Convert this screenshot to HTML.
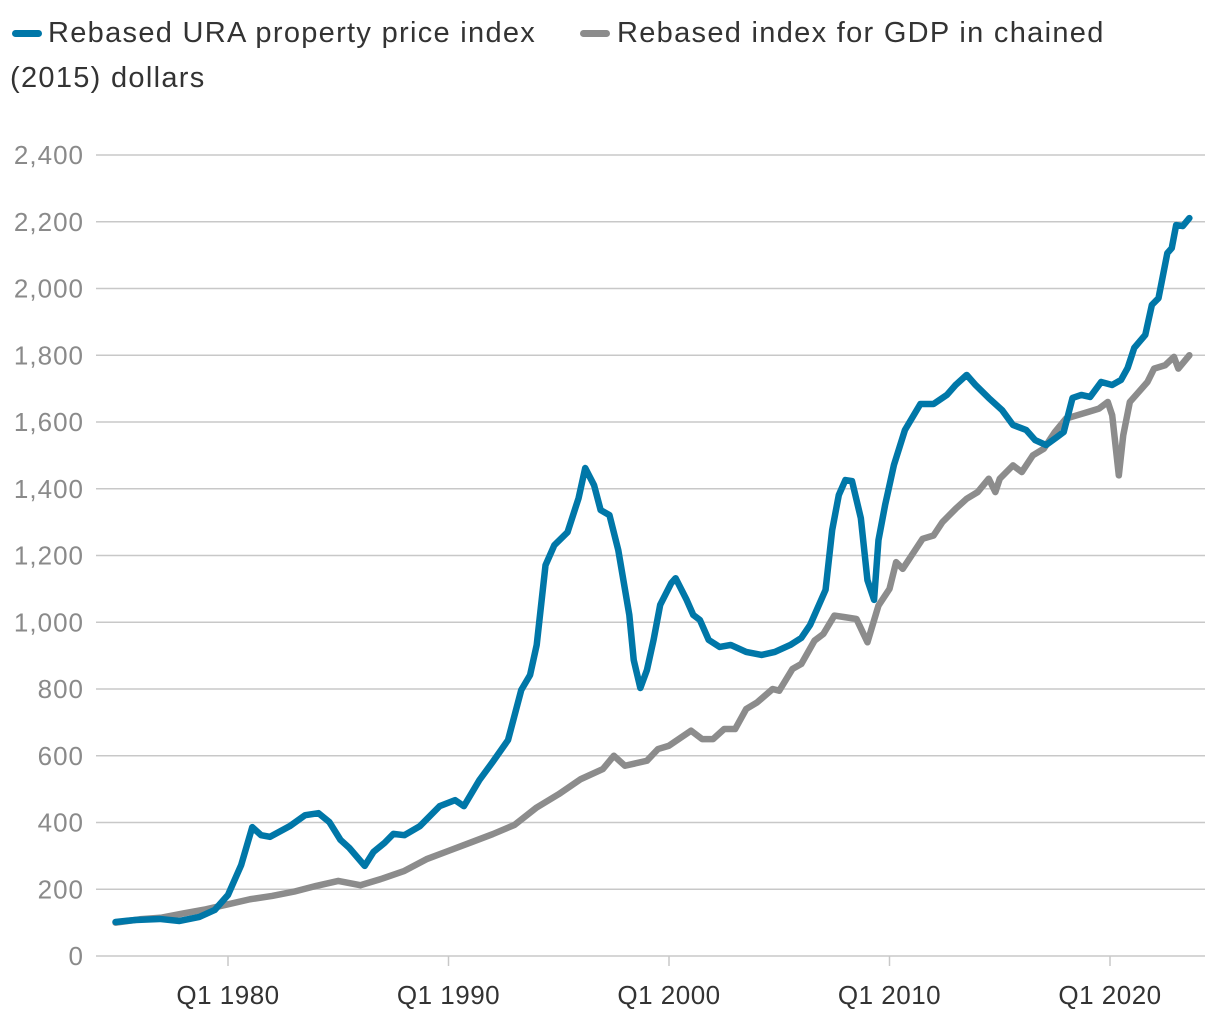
<!DOCTYPE html>
<html><head><meta charset="utf-8"><style>
body{margin:0;background:#fff;width:1220px;height:1020px;overflow:hidden;font-family:"Liberation Sans",sans-serif}
.lg{position:absolute;font-size:29px;letter-spacing:1.3px;color:#333;white-space:nowrap;line-height:34px}
.sw{position:absolute;width:30px;height:7px;border-radius:4px}
</style></head><body>
<div>
<div><div class="sw" style="left:12px;top:30px;background:#0077a8"></div><div class="lg" style="left:48px;top:16px">Rebased URA property price index</div></div>
<div><div class="sw" style="left:580px;top:30px;background:#8c8c8c"></div><div class="lg" style="left:617px;top:16px">Rebased index for GDP in chained</div><div class="lg" style="left:10px;top:61px">(2015) dollars</div></div>
</div>
<svg id="chart" width="1220" height="1020" style="position:absolute;left:0;top:0"></svg>
<script>
const yTicks=[0,200,400,600,800,1000,1200,1400,1600,1800,2000,2200,2400];
const yTickLabels=["0","200","400","600","800","1,000","1,200","1,400","1,600","1,800","2,000","2,200","2,400"];
const xTicks=[1980,1990,2000,2010,2020];
const xTickLabels=["Q1 1980","Q1 1990","Q1 2000","Q1 2010","Q1 2020"];
const uraYears=[1974.9,1975.8,1976.9,1977.8,1978.7,1979.4,1980,1980.6,1981.1,1981.5,1981.9,1982.8,1983.5,1984.1,1984.6,1985.1,1985.5,1986.2,1986.6,1987.1,1987.5,1988.0,1988.7,1989.6,1990.3,1990.7,1991.4,1992.0,1992.7,1993.3,1993.7,1994.0,1994.4,1994.8,1995.4,1995.9,1996.2,1996.6,1996.9,1997.3,1997.7,1998.2,1998.4,1998.7,1999.0,1999.3,1999.6,2000.1,2000.3,2000.8,2001.1,2001.4,2001.8,2002.3,2002.8,2003.5,2004.2,2004.8,2005.5,2006.0,2006.4,2006.7,2007.1,2007.4,2007.7,2008.0,2008.3,2008.7,2009.0,2009.3,2009.5,2009.8,2010.2,2010.7,2011.4,2012.0,2012.6,2013.0,2013.5,2013.9,2014.5,2015.1,2015.6,2016.2,2016.6,2017.1,2017.6,2017.9,2018.3,2018.7,2019.1,2019.6,2020.1,2020.5,2020.8,2021.1,2021.6,2021.9,2022.2,2022.6,2022.8,2023.0,2023.3,2023.6];
const uraValues=[102,108,111,105,117,138,183,273,386,362,357,389,422,428,401,348,324,270,312,339,366,362,389,449,467,449,527,581,647,797,842,932,1171,1231,1270,1372,1462,1411,1336,1321,1216,1022,887,803,857,947,1052,1117,1132,1067,1022,1007,947,926,932,911,902,911,932,953,992,1037,1097,1276,1381,1426,1423,1312,1126,1067,1246,1351,1471,1576,1654,1654,1681,1711,1741,1711,1672,1636,1591,1576,1546,1531,1555,1570,1672,1681,1675,1720,1711,1726,1762,1822,1861,1951,1971,2106,2121,2190,2187,2211];
const gdpYears=[1974.9,1976,1977,1978,1979,1980,1981,1982,1983,1984,1985,1986,1987,1988,1989,1990,1991,1992,1993,1994,1995,1996,1997,1997.5,1998,1999,1999.5,2000,2001,2001.5,2002,2002.5,2003,2003.5,2004,2004.7,2005,2005.6,2006,2006.6,2007,2007.5,2008,2008.5,2009,2009.5,2010,2010.3,2010.6,2011,2011.5,2012,2012.4,2013,2013.5,2014,2014.5,2014.8,2015,2015.6,2016,2016.5,2017,2017.5,2018,2018.5,2019,2019.5,2019.9,2020.1,2020.4,2020.6,2020.9,2021.3,2021.7,2022,2022.5,2022.9,2023.1,2023.6];
const gdpValues=[100,110,115,128,140,155,170,180,193,210,225,212,232,255,290,315,340,365,393,445,485,530,560,600,570,585,620,630,675,650,650,680,680,740,760,800,795,860,875,945,965,1020,1015,1010,940,1050,1100,1180,1160,1200,1250,1260,1300,1340,1370,1390,1430,1390,1430,1470,1450,1500,1520,1570,1610,1620,1630,1640,1660,1620,1440,1560,1660,1690,1720,1760,1770,1795,1760,1800];
const NS="http://www.w3.org/2000/svg",svg=document.getElementById('chart');
const X=yr=>228+(yr-1980)*22.05, Y=v=>956-v*(801/2400);
function mk(t,a){const e=document.createElementNS(NS,t);for(const k in a)e.setAttribute(k,a[k]);svg.appendChild(e);return e;}
yTicks.forEach((v,i)=>{
 const g=mk('line',{x1:96,x2:1205,y1:Y(v),y2:Y(v),stroke:'#c8c8c8','stroke-width':1.5});
 
 
 const t=mk('text',{x:84,y:Y(v)+9,'text-anchor':'end','font-size':26,'letter-spacing':1,fill:'#8a8a8a','font-family':'Liberation Sans'});
 t.textContent=yTickLabels[i];
 
 
});
xTicks.forEach((v,i)=>{
 const l=mk('line',{x1:X(v),x2:X(v),y1:956,y2:966,stroke:'#c8c8c8','stroke-width':1.5});
 
 
 const t=mk('text',{x:X(v),y:1004,'text-anchor':'middle','font-size':26,'letter-spacing':0.5,fill:'#333','font-family':'Liberation Sans'});
 t.textContent=xTickLabels[i];
 
 
});
function line(xs,vs,c,n){const p=mk('polyline',{points:xs.map((x,i)=>X(x)+','+Y(vs[i])).join(' '),fill:'none',stroke:c,'stroke-width':6.5,'stroke-linejoin':'round','stroke-linecap':'round'});
 
 }
line(gdpYears,gdpValues,'#8c8c8c','gdp-index-line');
line(uraYears,uraValues,'#0077a8','ura-price-index-line');
</script></body></html>
